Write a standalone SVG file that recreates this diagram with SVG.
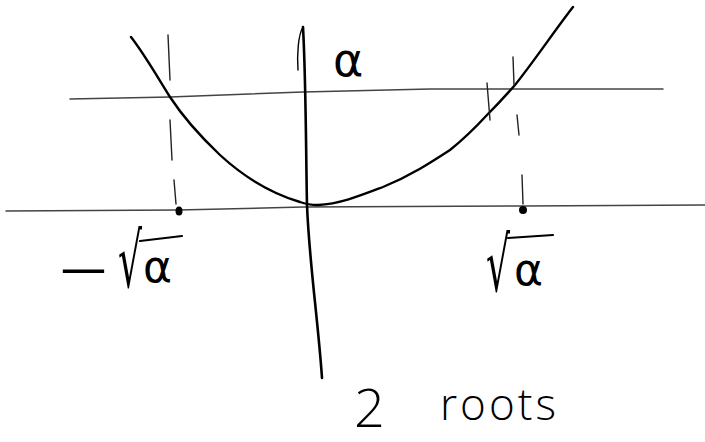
<svg xmlns="http://www.w3.org/2000/svg" width="705" height="442" viewBox="0 0 705 442">
<style>
.ink{fill:none;stroke:#000;stroke-linecap:round;stroke-linejoin:round}
.thin{fill:none;stroke:#444;stroke-width:1.5;stroke-linecap:round}
.dash{fill:none;stroke:#222;stroke-width:1.4;stroke-linecap:round}
.lbl{font-family:"DejaVu Sans","Liberation Sans",sans-serif;fill:#000}
.hand{font-family:"Open Sans","DejaVu Sans",sans-serif;font-weight:300;fill:#000}
</style>
<rect width="705" height="442" fill="#fff"/>
<g id="level-line"><path class="thin" d="M70 99 L170 97 L303 92 L430 89 L663 89" stroke-width="2"/></g>
<g id="x-axis"><path class="thin" d="M6 211 L178 210 L303 207 L523 206 L705 205"/></g>
<g id="y-axis"><path class="ink" stroke-width="1.4" d="M298 70 C297 55 298 35 303 27"/><path class="ink" stroke-width="2.6" d="M303 27 C306 80 306 160 307 205 C309 260 318 320 322 378"/></g>
<g id="parabola"><path class="ink" stroke-width="2.4" d="M131 37 C145 55 158 78 170 97 C185 120 200 136 220 155 C245 178 270 193 300 202 C308 205 313 205 318 205 C340 204 362 195 383 187 C410 176 430 163 450 150 C465 138 475 128 487 115 C500 102 508 93 515 85 C535 60 555 30 573 7"/></g>
<g id="left-drop"><path class="dash" d="M168 35 L170 80 M170 120 L172 160 M174 180 L176 204"/><ellipse cx="179" cy="211" rx="3.5" ry="4.5" fill="#000"/></g>
<g id="right-drop"><path class="dash" d="M513 57 L514 85 M517 115 L519 135 M522 175 L523 204"/><path class="dash" stroke-width="1" d="M487 83 L490 120"/><circle cx="523" cy="210" r="4" fill="#000"/></g>
<g id="label-alpha"><text class="lbl" x="333" y="76" font-size="46">α</text></g>
<g id="label-neg-root"><text class="lbl" transform="translate(56,285) scale(1.5,1)" font-size="44">−</text><text class="lbl" transform="translate(118,287) scale(0.65,1.3)" font-size="58">√</text><path class="ink" stroke-width="2.2" d="M140 241 L182 236"/><text class="lbl" x="143" y="282" font-size="44">α</text></g>
<g id="label-root"><text class="lbl" transform="translate(486,291) scale(0.65,1.3)" font-size="58">√</text><path class="ink" stroke-width="2.2" d="M508 238 L553 235"/><text class="lbl" x="514" y="285" font-size="44">α</text></g>
<g id="label-count"><text class="hand" x="354" y="427" font-size="54">2</text><text class="hand" x="440" y="420" font-size="44" letter-spacing="3">roots</text></g>
</svg>
